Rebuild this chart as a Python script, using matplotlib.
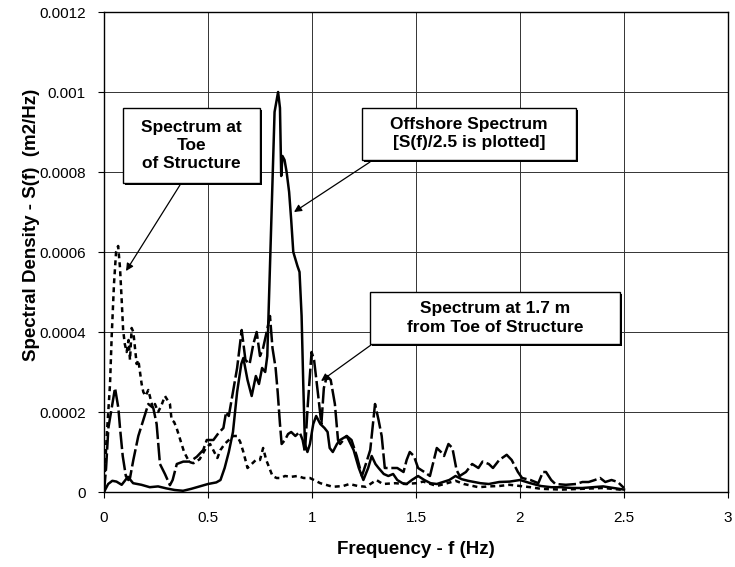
import numpy as np
import matplotlib
matplotlib.use('Agg')
import matplotlib.pyplot as plt
import matplotlib.patheffects as pe
from matplotlib.patches import Rectangle

plt.rcParams['font.family'] = ['Liberation Sans', 'DejaVu Sans']

# spectral density values, in units of 1e-6 m2/Hz
offshore_f = [0, 0.02, 0.04, 0.06, 0.085, 0.115, 0.14, 0.18, 0.22, 0.26,
              0.3, 0.34, 0.38, 0.42, 0.46, 0.5, 0.54, 0.56, 0.58, 0.6,
              0.62, 0.64, 0.66, 0.67, 0.69, 0.71, 0.73, 0.745, 0.76, 0.775,
              0.785, 0.8, 0.82, 0.837, 0.846, 0.852, 0.858, 0.868, 0.878, 0.89,
              0.9, 0.91, 0.93, 0.94, 0.95, 0.958, 0.966, 0.978, 0.99, 1.006,
              1.02, 1.04, 1.06, 1.075, 1.085, 1.1, 1.12, 1.135, 1.167, 1.2,
              1.225, 1.247, 1.27, 1.287, 1.305, 1.32, 1.345, 1.367, 1.39, 1.41,
              1.435, 1.455, 1.48, 1.51, 1.54, 1.57, 1.6, 1.63, 1.66, 1.69,
              1.72, 1.75, 1.78, 1.81, 1.85, 1.9, 1.95, 2.0, 2.05, 2.1,
              2.15, 2.2, 2.25, 2.3, 2.35, 2.4, 2.45, 2.5]
offshore_s = [0, 20, 28, 26, 18, 38, 22, 18, 12, 14,
              9, 5, 3, 8, 14, 20, 24, 30, 60, 100,
              150, 250, 320, 335, 280, 240, 290, 270, 310, 300,
              340, 600, 950, 1000, 960, 790, 840, 830, 800, 750,
              680, 600, 565, 550, 440, 270, 120, 100, 120, 170,
              190, 170, 160, 150, 110, 100, 120, 130, 140, 105,
              60, 30, 60, 90, 70, 60, 45, 40, 45, 30,
              22, 20, 30, 40, 30, 22, 20, 25, 30, 40,
              32, 28, 25, 22, 20, 25, 26, 30, 22, 15,
              12, 12, 10, 10, 12, 14, 10, 6]

toe_f = [0, 0.013, 0.029, 0.037, 0.048, 0.058, 0.068, 0.077, 0.085, 0.092,
         0.1, 0.109, 0.118, 0.125, 0.133, 0.141, 0.149, 0.157, 0.165, 0.173,
         0.181, 0.189, 0.2, 0.213, 0.225, 0.235, 0.245, 0.26, 0.275, 0.293,
         0.305, 0.317, 0.325, 0.337, 0.349, 0.361, 0.373, 0.385, 0.397, 0.41,
         0.43, 0.46, 0.49, 0.51, 0.53, 0.545, 0.56, 0.58, 0.6, 0.62,
         0.64, 0.655, 0.67, 0.69, 0.71, 0.73, 0.75, 0.765, 0.78, 0.795,
         0.81, 0.83, 0.85, 0.87, 0.9, 0.93, 0.96, 0.99, 1.04, 1.1,
         1.15, 1.18, 1.22, 1.26, 1.31, 1.34, 1.4, 1.45, 1.5, 1.535,
         1.6, 1.65, 1.69, 1.73, 1.8, 1.85, 1.9, 1.95, 2.0, 2.05,
         2.1, 2.2, 2.3, 2.4, 2.5]
toe_s = [5, 140, 270, 390, 520, 600, 615, 560, 480, 405,
         370, 350, 380, 330, 410, 400, 360, 320, 330, 300,
         270, 250, 240, 255, 230, 210, 220, 200, 215, 240,
         230, 220, 180, 175, 160, 140, 120, 100, 88, 75,
         72, 82, 110, 120, 100, 85, 105, 120, 130, 140,
         140, 125, 100, 60, 70, 80, 80, 110, 80, 60,
         40, 35, 35, 40, 38, 40, 35, 35, 22, 13,
         15, 20, 15, 13, 30, 20, 22, 20, 22, 26,
         15, 22, 28, 20, 12, 14, 15, 18, 15, 12,
         8, 6, 8, 10, 5]

near_f = [0, 0.01, 0.021, 0.037, 0.053, 0.069, 0.077, 0.09, 0.105, 0.117,
          0.125, 0.141, 0.165, 0.189, 0.213, 0.237, 0.253, 0.269, 0.293, 0.317,
          0.33, 0.35, 0.381, 0.413, 0.446, 0.477, 0.494, 0.526, 0.55, 0.574,
          0.587, 0.6, 0.62, 0.64, 0.662, 0.68, 0.7, 0.718, 0.734, 0.75,
          0.765, 0.782, 0.798, 0.81, 0.825, 0.835, 0.846, 0.854, 0.87, 0.885,
          0.9, 0.92, 0.94, 0.955, 0.966, 0.98, 0.998, 1.01, 1.03, 1.045,
          1.057, 1.072, 1.09, 1.11, 1.125, 1.135, 1.167, 1.19, 1.215, 1.24,
          1.265, 1.28, 1.303, 1.32, 1.335, 1.35, 1.38, 1.41, 1.44, 1.455,
          1.47, 1.49, 1.51, 1.54, 1.567, 1.6, 1.62, 1.635, 1.656, 1.675,
          1.695, 1.71, 1.74, 1.77, 1.8, 1.82, 1.85, 1.87, 1.9, 1.936,
          1.96, 1.99, 2.01, 2.05, 2.088, 2.11, 2.125, 2.15, 2.17, 2.22,
          2.27, 2.3, 2.33, 2.36, 2.385, 2.41, 2.44, 2.47, 2.5]
near_s = [0, 60, 160, 210, 260, 210, 160, 90, 40, 30,
          35, 80, 140, 180, 220, 210, 170, 70, 45, 17,
          30, 70, 76, 76, 88, 105, 130, 130, 147, 160,
          200, 190, 250, 310, 405, 330, 320, 370, 400, 340,
          360, 400, 440, 360, 310, 250, 170, 120, 130, 145,
          150, 140, 150, 130, 100, 220, 350, 330, 240, 170,
          260, 290, 280, 220, 130, 120, 140, 130, 90, 40,
          80, 105, 220, 180, 140, 60, 60, 60, 50, 80,
          100, 90, 60, 50, 40, 110, 100, 90, 120, 110,
          55, 40, 50, 70, 60, 76, 70, 60, 80, 93,
          80, 50, 35, 30, 22, 50, 50, 30, 20, 18,
          20, 25, 25, 30, 35, 25, 30, 25, 10]

x_ticks = [0, 0.5, 1, 1.5, 2, 2.5, 3]
x_labels = ['0', '0.5', '1', '1.5', '2', '2.5', '3']
y_ticks = [0, 0.0002, 0.0004, 0.0006, 0.0008, 0.001, 0.0012]
y_labels = ['0', '0.0002', '0.0004', '0.0006', '0.0008', '0.001', '0.0012']

fig = plt.figure(figsize=(7.35, 5.67), dpi=100)
ax = fig.add_axes([104 / 735, 75 / 567, 624 / 735, 480 / 567])

lw = 1.8
ax.plot(offshore_f, np.array(offshore_s) * 1e-6, color='black', lw=lw,
        solid_joinstyle='round', zorder=3)
ax.plot(toe_f, np.array(toe_s) * 1e-6, color='black', lw=lw,
        linestyle=(0, (2, 1.6)), zorder=3)
ax.plot(near_f, np.array(near_s) * 1e-6, color='black', lw=lw,
        linestyle=(0, (7, 1.5)), zorder=3)

ax.set_xlim(0, 3)
ax.set_ylim(0, 0.0012)
ax.set_xticks(x_ticks)
ax.set_xticklabels(x_labels)
ax.set_yticks(y_ticks)
ax.set_yticklabels(y_labels)
ax.tick_params(direction='out', length=4, width=0.8, labelsize=11)
ax.tick_params(axis='x', pad=10)
ax.tick_params(axis='y', pad=9)
ax.grid(True, color='#333333', lw=0.7, zorder=0)
ax.set_axisbelow(True)
for sp in ax.spines.values():
    sp.set_linewidth(1.0)

ax.set_xlabel('Frequency - f (Hz)', fontsize=13.5, fontweight='bold')
ax.set_ylabel('Spectral Density - S(f)  (m2/Hz)', fontsize=13.5, fontweight='bold')
ax.xaxis.set_label_coords(0.5, -0.102)
ax.yaxis.set_label_coords(-0.103, 0.556)

# text boxes with arrows (axes fraction)
boxes = [
    ((0.0304, 0.644, 0.2196, 0.156), 'Spectrum at\nToe\nof Structure',
     (0.1218, 0.6396), (0.0353, 0.4604)),
    ((0.4135, 0.6917, 0.343, 0.1083), 'Offshore Spectrum\n[S(f)/2.5 is plotted]',
     (0.4263, 0.6875), (0.3045, 0.5833)),
    ((0.4263, 0.3083, 0.4006, 0.1084), 'Spectrum at 1.7 m\nfrom Toe of Structure',
     (0.4279, 0.3063), (0.3478, 0.2313)),
]
for (x0, y0, w, h), txt, tail, tip in boxes:
    rect = Rectangle((x0, y0), w, h, transform=ax.transAxes, facecolor='white',
                     edgecolor='black', lw=1.0, zorder=5,
                     path_effects=[pe.withSimplePatchShadow(offset=(1.5, -1.5),
                                                            shadow_rgbFace='black',
                                                            alpha=1)])
    ax.add_patch(rect)
    ax.text(x0 + w / 2, y0 + h / 2, txt, transform=ax.transAxes, ha='center',
            va='center', fontsize=12.5, fontweight='bold', linespacing=1.25,
            zorder=6)
    ax.annotate('', xy=tip, xytext=tail, xycoords='axes fraction',
                textcoords='axes fraction',
                arrowprops=dict(arrowstyle='-|>', color='black', lw=0.9,
                                mutation_scale=11, shrinkA=0, shrinkB=0),
                zorder=6)

fig.savefig('out.png', dpi=100)
